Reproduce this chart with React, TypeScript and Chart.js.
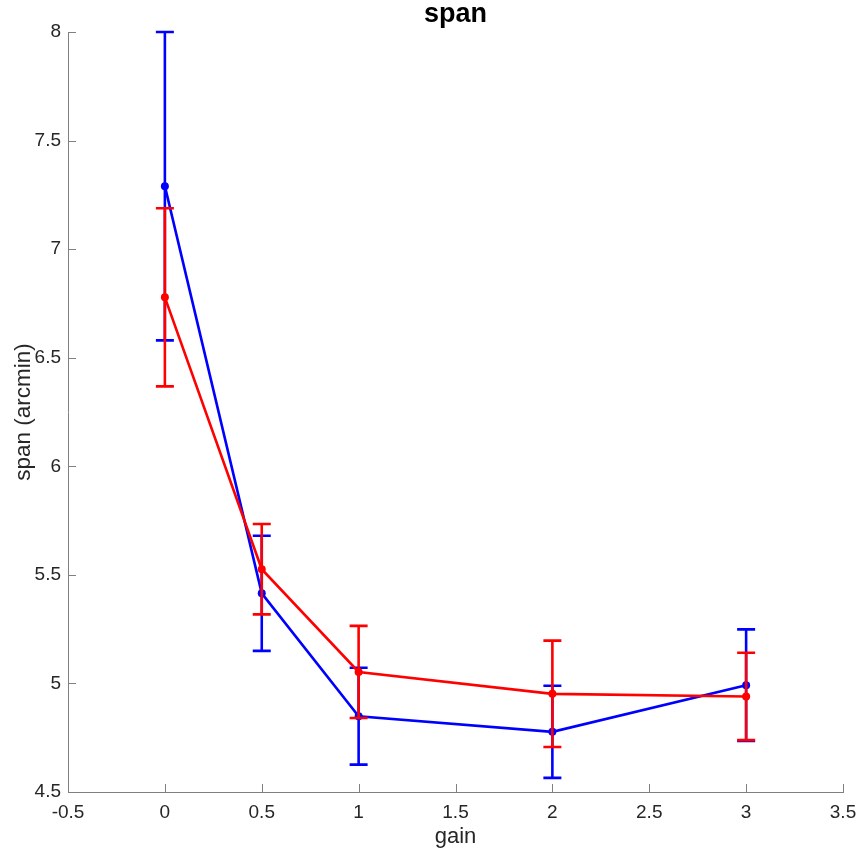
import React, { useEffect, useRef } from 'react';
import { Chart, registerables } from 'chart.js';

Chart.register(...registerables);

// Span measurements against gain for two conditions (mean ± error)
const gains = [0, 0.5, 1, 2, 3];
const blueMean = [7.29, 5.415, 4.849, 4.777, 4.992];
const blueErr = [0.71, 0.265, 0.223, 0.212, 0.257];
const redMean = [6.778, 5.526, 5.053, 4.952, 4.94];
const redErr = [0.41, 0.208, 0.212, 0.245, 0.201];

const xTicks = [-0.5, 0, 0.5, 1, 1.5, 2, 2.5, 3, 3.5];
const yTicks = [4.5, 5, 5.5, 6, 6.5, 7, 7.5, 8];

const titleText = 'span';
const xLabel = 'gain';
const yLabel = 'span (arcmin)';

const FONT = "'Liberation Sans', Arial, Helvetica, sans-serif";
const TEXT = '#262626';
const AXIS = '#808080';
const LINE_W = 2.6;

const toPoints = (ys: number[]) => gains.map((x, i) => ({ x, y: ys[i] }));

// Vertical error bars with caps, drawn right after their own series
const errorBars = {
  id: 'errorBars',
  afterDatasetDraw(chart: any, args: any) {
    const ds = chart.data.datasets[args.index];
    const errs: number[] = ds.errors;
    if (!errs) return;
    const { ctx } = chart;
    const xs = chart.scales.x;
    const ys = chart.scales.y;
    const cap = 9;
    ctx.save();
    ctx.strokeStyle = ds.borderColor;
    ctx.lineWidth = LINE_W;
    ds.data.forEach((p: { x: number; y: number }, i: number) => {
      const px = xs.getPixelForValue(p.x);
      const top = ys.getPixelForValue(p.y + errs[i]);
      const bot = ys.getPixelForValue(p.y - errs[i]);
      ctx.beginPath();
      ctx.moveTo(px, top);
      ctx.lineTo(px, bot);
      ctx.moveTo(px - cap, top);
      ctx.lineTo(px + cap, top);
      ctx.moveTo(px - cap, bot);
      ctx.lineTo(px + cap, bot);
      ctx.stroke();
    });
    ctx.restore();
  },
};

// Inward tick marks and the bold title above the plot area
const axisDecor = {
  id: 'axisDecor',
  afterDraw(chart: any) {
    const { ctx, chartArea } = chart;
    const xs = chart.scales.x;
    const ys = chart.scales.y;
    const len = 8;
    ctx.save();
    ctx.strokeStyle = AXIS;
    ctx.lineWidth = 1;
    ctx.beginPath();
    xTicks.forEach((v) => {
      const px = Math.round(xs.getPixelForValue(v)) + 0.5;
      ctx.moveTo(px, chartArea.bottom);
      ctx.lineTo(px, chartArea.bottom - len);
    });
    yTicks.forEach((v) => {
      const py = Math.round(ys.getPixelForValue(v)) + 0.5;
      ctx.moveTo(chartArea.left, py);
      ctx.lineTo(chartArea.left + len, py);
    });
    ctx.stroke();

    ctx.fillStyle = '#000';
    ctx.font = `bold 27px ${FONT}`;
    ctx.textAlign = 'center';
    ctx.textBaseline = 'alphabetic';
    ctx.fillText(titleText, (chartArea.left + chartArea.right) / 2, 22);
    ctx.restore();
  },
};

const seriesStyle = (color: string, order: number) => ({
  borderColor: color,
  backgroundColor: color,
  pointBackgroundColor: color,
  pointBorderColor: color,
  borderWidth: LINE_W,
  pointRadius: 4,
  pointBorderWidth: 0,
  tension: 0,
  clip: false,
  order,
});

export default function App() {
  const canvasRef = useRef<HTMLCanvasElement | null>(null);

  useEffect(() => {
    if (!canvasRef.current) return;
    const chart = new Chart(canvasRef.current, {
      type: 'line',
      data: {
        datasets: [
          { label: 'red', data: toPoints(redMean), errors: redErr, ...seriesStyle('#ff0000', 0) } as any,
          { label: 'blue', data: toPoints(blueMean), errors: blueErr, ...seriesStyle('#0000ff', 1) } as any,
        ],
      },
      options: {
        responsive: false,
        animation: false,
        devicePixelRatio: 1,
        layout: { padding: { top: 32, right: 16, bottom: 0, left: 0 } },
        plugins: {
          legend: { display: false },
          tooltip: { enabled: false },
          title: { display: false },
        },
        scales: {
          x: {
            type: 'linear',
            min: -0.5,
            max: 3.5,
            afterBuildTicks: (scale: any) => {
              scale.ticks = xTicks.map((value) => ({ value }));
            },
            afterFit: (scale: any) => {
              scale.height = 58;
              scale.paddingLeft = 0;
              scale.paddingRight = 0;
            },
            grid: { display: false, drawTicks: false },
            border: { display: true, color: AXIS, width: 1 },
            ticks: {
              padding: 9,
              color: TEXT,
              font: { family: FONT, size: 19 },
              maxRotation: 0,
              callback: (v: any) => String(v),
            },
            title: {
              display: true,
              text: xLabel,
              color: TEXT,
              font: { family: FONT, size: 22 },
              padding: { top: 0, bottom: 0 },
            },
          },
          y: {
            type: 'linear',
            min: 4.5,
            max: 8,
            afterBuildTicks: (scale: any) => {
              scale.ticks = yTicks.map((value) => ({ value }));
            },
            afterFit: (scale: any) => {
              scale.width = 68;
              scale.paddingTop = 0;
              scale.paddingBottom = 0;
            },
            grid: { display: false, drawTicks: false },
            border: { display: true, color: AXIS, width: 1 },
            ticks: {
              padding: 7,
              color: TEXT,
              font: { family: FONT, size: 19 },
              callback: (v: any) => String(v),
            },
            title: {
              display: true,
              text: yLabel,
              color: TEXT,
              font: { family: FONT, size: 22.5 },
              padding: { top: 10, bottom: 0 },
            },
          },
        },
      },
      plugins: [errorBars, axisDecor],
    } as any);
    return () => chart.destroy();
  }, []);

  return (
    <div style={{ position: 'absolute', left: 0, top: 0, width: 859, height: 850, background: '#fff' }}>
      <canvas ref={canvasRef} width={859} height={850} style={{ display: 'block' }} />
    </div>
  );
}
